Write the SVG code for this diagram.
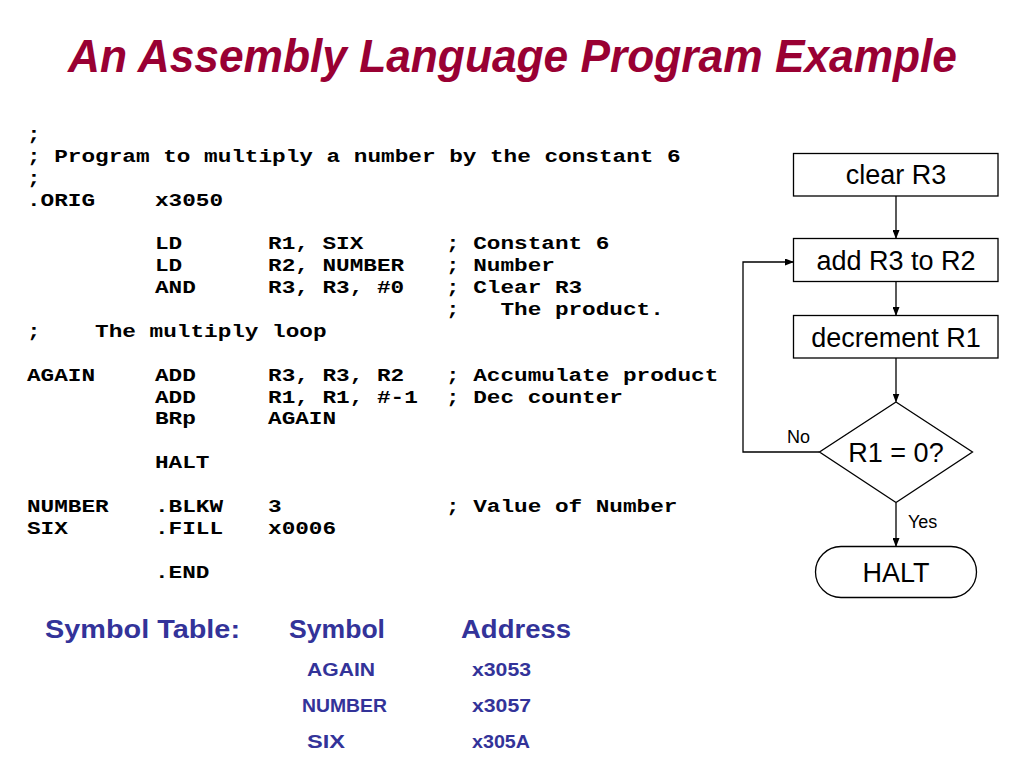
<svg xmlns="http://www.w3.org/2000/svg" width="1024" height="768" viewBox="0 0 1024 768">
<style>
.title{font-family:"Liberation Sans",Arial,sans-serif;font-weight:bold;font-style:italic;font-size:46px;fill:#990033}
.code{font-family:"Liberation Mono","Courier New",monospace;font-weight:bold;font-size:19.2px;fill:#000;white-space:pre}
.sym{font-family:"Liberation Sans",Arial,sans-serif;font-weight:bold;fill:#333399}
.h{font-size:25px}
.r{font-size:18px}
.box{fill:#fff;stroke:#000;stroke-width:1.3}
.lbl{font-family:"Liberation Sans",Arial,sans-serif;font-size:27px;fill:#000;text-anchor:middle}
.small{font-family:"Liberation Sans",Arial,sans-serif;font-size:18px;fill:#000}
.conn{fill:none;stroke:#000;stroke-width:1.3}
</style>
<defs>
<marker id="arr" markerWidth="9" markerHeight="7" refX="8" refY="3.5" orient="auto" markerUnits="userSpaceOnUse">
<path d="M0,0 L9,3.5 L0,7 z" fill="#000"/>
</marker>
</defs>
<rect width="1024" height="768" fill="#fff"/>
<text class="title" x="68" y="72" textLength="889" lengthAdjust="spacingAndGlyphs">An Assembly Language Program Example</text>

<g id="code" transform="scale(1.1823,1)">
<text class="code" x="22.84" y="140">;</text>
<text class="code" x="22.84" y="161.9">; Program to multiply a number by the constant 6</text>
<text class="code" x="22.84" y="183.8">;</text>
<text class="code" x="22.84" y="205.6">.ORIG</text><text class="code" x="131.1" y="205.6">x3050</text>
<text class="code" x="131.1" y="249.4">LD</text><text class="code" x="226.7" y="249.4">R1, SIX</text><text class="code" x="377.2" y="249.4">; Constant 6</text>
<text class="code" x="131.1" y="271.3">LD</text><text class="code" x="226.7" y="271.3">R2, NUMBER</text><text class="code" x="377.2" y="271.3">; Number</text>
<text class="code" x="131.1" y="293.2">AND</text><text class="code" x="226.7" y="293.2">R3, R3, #0</text><text class="code" x="377.2" y="293.2">; Clear R3</text>
<text class="code" x="377.2" y="315">;   The product.</text>
<text class="code" x="22.84" y="336.9">;    The multiply loop</text>
<text class="code" x="22.84" y="380.7">AGAIN</text><text class="code" x="131.1" y="380.7">ADD</text><text class="code" x="226.7" y="380.7">R3, R3, R2</text><text class="code" x="377.2" y="380.7">; Accumulate product</text>
<text class="code" x="131.1" y="402.6">ADD</text><text class="code" x="226.7" y="402.6">R1, R1, #-1</text><text class="code" x="377.2" y="402.6">; Dec counter</text>
<text class="code" x="131.1" y="424.4">BRp</text><text class="code" x="226.7" y="424.4">AGAIN</text>
<text class="code" x="131.1" y="468.2">HALT</text>
<text class="code" x="22.84" y="512">NUMBER</text><text class="code" x="131.1" y="512">.BLKW</text><text class="code" x="226.7" y="512">3</text><text class="code" x="377.2" y="512">; Value of Number</text>
<text class="code" x="22.84" y="533.8">SIX</text><text class="code" x="131.1" y="533.8">.FILL</text><text class="code" x="226.7" y="533.8">x0006</text>
<text class="code" x="131.1" y="577.6">.END</text>
</g>

<g id="symtable">
<text class="sym h" x="45" y="638" textLength="195" lengthAdjust="spacingAndGlyphs">Symbol Table:</text>
<text class="sym h" x="289" y="638" textLength="96" lengthAdjust="spacingAndGlyphs">Symbol</text>
<text class="sym h" x="461" y="638" textLength="110" lengthAdjust="spacingAndGlyphs">Address</text>
<text class="sym r" x="307" y="676" textLength="68" lengthAdjust="spacingAndGlyphs">AGAIN</text>
<text class="sym r" x="302" y="712" textLength="85" lengthAdjust="spacingAndGlyphs">NUMBER</text>
<text class="sym r" x="307" y="748" textLength="38" lengthAdjust="spacingAndGlyphs">SIX</text>
<text class="sym r" x="472" y="676" textLength="59" lengthAdjust="spacingAndGlyphs">x3053</text>
<text class="sym r" x="472" y="712" textLength="59" lengthAdjust="spacingAndGlyphs">x3057</text>
<text class="sym r" x="472" y="748" textLength="58" lengthAdjust="spacingAndGlyphs">x305A</text>
</g>

<g id="connectors">
<line class="conn" x1="896" y1="196" x2="896" y2="238" marker-end="url(#arr)"/>
<line class="conn" x1="896" y1="282" x2="896" y2="315" marker-end="url(#arr)"/>
<line class="conn" x1="896" y1="358" x2="896" y2="401.5" marker-end="url(#arr)"/>
<polyline class="conn" points="819.5,452 743,452 743,262 793,262" marker-end="url(#arr)"/>
<line class="conn" x1="896" y1="503" x2="896" y2="546" marker-end="url(#arr)"/>
<text class="small" x="787" y="442.5">No</text>
<text class="small" x="908" y="527.5">Yes</text>
</g>

<g id="n-clear">
<rect class="box" x="793.5" y="153.5" width="204.5" height="42.5"/>
<text class="lbl" x="896" y="184">clear R3</text>
</g>
<g id="n-add">
<rect class="box" x="793.5" y="238.5" width="204.5" height="43"/>
<text class="lbl" x="896" y="270">add R3 to R2</text>
</g>
<g id="n-dec">
<rect class="box" x="793.5" y="315.5" width="204.5" height="42.5"/>
<text class="lbl" x="896" y="346.5">decrement R1</text>
</g>
<g id="n-test">
<polygon class="box" points="896,402 972.5,452 896,502.5 819.5,452"/>
<text class="lbl" x="896" y="462">R1 = 0?</text>
</g>
<g id="n-halt">
<rect class="box" x="815.5" y="546.5" width="161" height="51" rx="25.5" ry="25.5"/>
<text class="lbl" x="896" y="582">HALT</text>
</g>
</svg>
